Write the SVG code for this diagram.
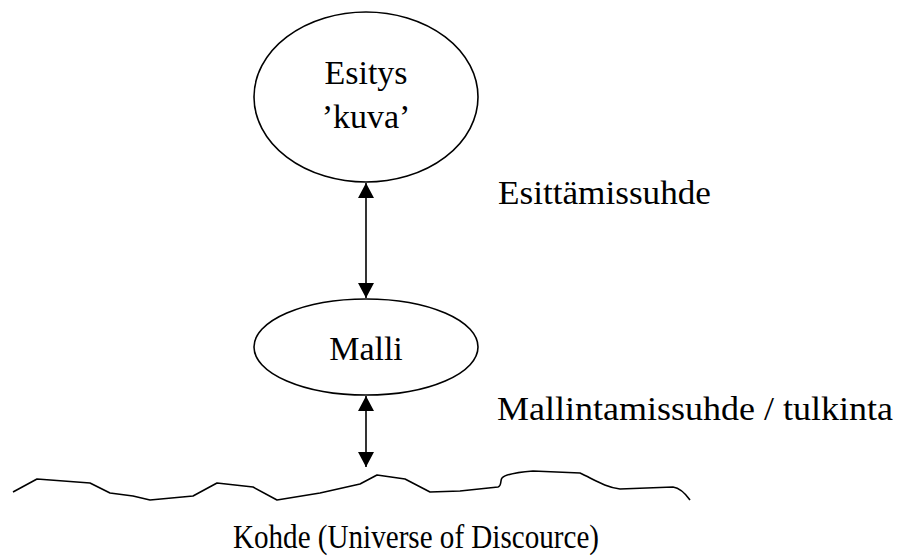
<svg xmlns="http://www.w3.org/2000/svg" width="903" height="560" viewBox="0 0 903 560">
<defs>
<style>
text{font-family:"Liberation Serif","Times New Roman",serif;font-size:34px;fill:#000}
.node ellipse{fill:#fff;stroke:#000;stroke-width:1.6}
.conn{stroke:#000;stroke-width:1.6;fill:none}
.ground{stroke:#000;stroke-width:1.6;fill:none;stroke-linejoin:round}
</style>
<marker id="ah" viewBox="0 0 15 16" refX="15" refY="8" markerWidth="15" markerHeight="16" markerUnits="userSpaceOnUse" orient="auto-start-reverse">
<path d="M0,0 L15,8 L0,16 Z" fill="#000"/>
</marker>
</defs>
<rect width="903" height="560" fill="#fff"/>
<g id="esitys" class="node">
<ellipse cx="366" cy="97" rx="112" ry="85"/>
<text x="366" y="84" text-anchor="middle">Esitys</text>
<text x="366" y="128" text-anchor="middle">’kuva’</text>
</g>
<g id="malli" class="node">
<ellipse cx="366" cy="347" rx="112" ry="48"/>
<text x="366" y="360" text-anchor="middle">Malli</text>
</g>
<g id="kohde">
<path class="ground" d="M13,492 L37,479 L90,483 L110,493 L133,496 L150,500 L193,496 L217,483 L253,487 L277,500 L320,493 L360,484 L377,475 L405,479 L430,492 L460,491 L498,487 C502,486 500,480 502,478 C506,474 520,472 533,471 L580,473 C595,480 605,487 620,489 L673,487 C680,488 685,493 690,500"/>
<text x="233" y="548" textLength="366" lengthAdjust="spacingAndGlyphs">Kohde (Universe of Discource)</text>
</g>
<g id="connectors">
<line class="conn" x1="366" y1="183" x2="366" y2="298" marker-start="url(#ah)" marker-end="url(#ah)"/>
<line class="conn" x1="366" y1="396" x2="366" y2="467" marker-start="url(#ah)" marker-end="url(#ah)"/>
<text x="498" y="204" textLength="213" lengthAdjust="spacingAndGlyphs">Esittämissuhde</text>
<text x="497" y="420" textLength="396" lengthAdjust="spacingAndGlyphs">Mallintamissuhde / tulkinta</text>
</g>
</svg>
